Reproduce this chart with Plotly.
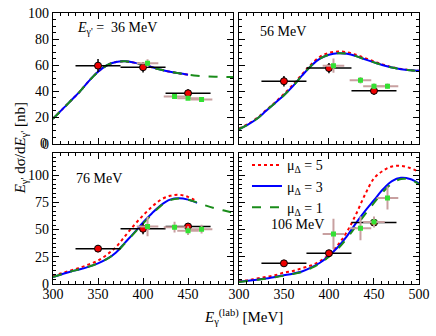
import plotly.graph_objects as go
from plotly.subplots import make_subplots

# photon energy grid for the model curves (MeV)
E_grid = [300, 310, 320, 330, 340, 350, 360, 370, 380, 390, 400,
          410, 420, 430, 440, 450, 460, 470, 480, 490, 500]

# model curves per panel (mu_Delta = 5, 3, 1)
mu5_36 = [19, 26, 33, 40, 48, 55, 60, 62.5, 63, 62, 60.5, 58.5, 56.5, 55, 53.8, 52.8,
          None, None, None, None, None]
mu3_36 = [19, 26, 33, 40, 48, 55, 60, 62.5, 63, 62, 60.5, 58.5, 56.5, 55, 53.8, 52.8,
          None, None, None, None, None]
mu1_36 = [19, 26, 33, 40, 48, 55, 60, 62.5, 63, 62, 60.5, 58.5, 56.5, 55, 53.8, 52.8,
          52, 51.5, 51.2, 51, 51]

mu5_56 = [11.5, 15, 19.5, 25.5, 31.5, 38, 45, 53, 60.5, 66.5, 69.5, 70.5, 70, 68, 65.5,
          63, 60.5, 58.5, 57.2, 56.3, 55.7]
mu3_56 = [11, 14.5, 19, 25, 31, 37, 44, 52, 59.5, 65, 68, 69.2, 68.8, 67, 64.5, 62.2,
          60, 58.2, 57, 56.2, 55.7]
mu1_56 = [11, 14.5, 19, 25, 31, 37, 44, 52, 59.5, 65, 68, 69.2, 68.8, 67, 64.5, 62.2,
          60, 58.2, 57, 56.2, 55.7]

mu5_76 = [7.5, 10, 12.5, 15, 18, 21.5, 27, 34, 44, 54, 63, 71, 77.5, 81, 82, 80, 76,
          None, None, None, None]
mu3_76 = [6.5, 9, 11.5, 13.5, 16, 19, 23, 29, 38, 47, 56.5, 65, 72.5, 77.5, 78.8, 77.5,
          74.5, None, None, None, None]
mu1_76 = [6.5, 9, 11.5, 13.5, 16, 19, 23, 29, 37.5, 46.5, 55.5, 64, 72, 77, 78.5, 77.5,
          75, 72, 69.5, 67.5, 65.5]

mu5_106 = [2.5, 3.5, 5, 6.5, 8, 10.5, 12, 14.5, 17, 21, 27, 36, 48, 64, 82, 97, 104,
           108, 108.5, 106.5, 103]
mu3_106 = [2, 3, 4, 5, 6.5, 8, 9.5, 11.5, 15, 19.5, 26, 34, 44, 56, 67, 77, 87, 94.5,
           97.5, 96.5, 92.5]
mu1_106 = [1.8, 2.8, 3.8, 4.8, 6.2, 7.7, 9.2, 11, 14.5, 19, 25, 32.5, 42, 53, 64, 74.5,
           84.5, 92.5, 96.5, 96, 91.5]

# data set A (red circles)
E_a = [350, 400, 450]
Ea_err = [25, 25, 25]
a_36 = [59.7, 58.5, 38.6]
a_36_err = [5, 4, 3]
a_56 = [47.8, 57.8, 40.4]
a_56_err = [4, 4, 3]
a_76 = [32.5, 50.7, 52.8]
a_76_err = [3, 5, 3]
a_106 = [19, 28.3, 56.4]
a_106_err = [2, 3, 4]

# data set B (green squares)
E_b = [405, 435, 450, 465]
Eb_err = [12, 12, 12, 12]
b_36 = [61.6, 36, 34.8, 33.7]
b_36_err = [3, 1.5, 1.5, 1.5]
b_56 = [59.7, 48.5, 44, 44]
b_56_err = [5.5, 2.5, 2, 2]
b_76 = [52.8, 52.2, 49, 50.4]
b_76_err = [9, 5, 4, 4]
b_106 = [46, 51.3, 57, 79]
b_106_err = [14, 11, 5, 10.5]

panels = [
    (1, 1, mu5_36, mu3_36, mu1_36, a_36, a_36_err, b_36, b_36_err),
    (1, 2, mu5_56, mu3_56, mu1_56, a_56, a_56_err, b_56, b_56_err),
    (2, 1, mu5_76, mu3_76, mu1_76, a_76, a_76_err, b_76, b_76_err),
    (2, 2, mu5_106, mu3_106, mu1_106, a_106, a_106_err, b_106, b_106_err),
]

FONT = "Liberation Serif"

fig = make_subplots(rows=2, cols=2, horizontal_spacing=0.016, vertical_spacing=0.036)

for r, c, m5, m3, m1, a, aerr, b, berr in panels:
    show = (r == 2 and c == 2)
    fig.add_trace(go.Scatter(x=E_grid, y=m5, mode="lines", line_shape="spline",
                             line=dict(color="#ff0000", width=2, dash="dot"),
                             name="μ<sub>Δ</sub> = 5", showlegend=show), row=r, col=c)
    fig.add_trace(go.Scatter(x=E_grid, y=m3, mode="lines", line_shape="spline",
                             line=dict(color="#0000ff", width=2),
                             name="μ<sub>Δ</sub> = 3", showlegend=show), row=r, col=c)
    fig.add_trace(go.Scatter(x=E_grid, y=m1, mode="lines", line_shape="spline",
                             line=dict(color="#1a8c1a", width=2, dash="dash"),
                             name="μ<sub>Δ</sub> = 1", showlegend=show), row=r, col=c)
    fig.add_trace(go.Scatter(x=E_a, y=a, mode="markers",
                             marker=dict(color="#ee0000", size=7, symbol="circle",
                                         line=dict(color="black", width=1)),
                             error_x=dict(type="data", array=Ea_err, color="black",
                                          thickness=1.5, width=0),
                             error_y=dict(type="data", array=aerr, color="black",
                                          thickness=1.5, width=0),
                             showlegend=False), row=r, col=c)
    fig.add_trace(go.Scatter(x=E_b, y=b, mode="markers",
                             marker=dict(color="#33e033", size=5, symbol="square"),
                             error_x=dict(type="data", array=Eb_err, color="#c8a0a0",
                                          thickness=2, width=0),
                             error_y=dict(type="data", array=berr, color="#c8a0a0",
                                          thickness=2, width=0),
                             showlegend=False), row=r, col=c)

axis_style = dict(showline=True, linecolor="black", linewidth=1.2, mirror="allticks",
                  ticks="inside", ticklen=6, tickwidth=1, tickcolor="black",
                  showgrid=False, zeroline=False, ticklabeloverflow="allow",
                  tickfont=dict(family=FONT, size=14, color="black"))

for r in (1, 2):
    for c in (1, 2):
        xt = ["300", "350", "400", "450", "500" if c == 2 else ""] if r == 2 else [""] * 5
        fig.update_xaxes(range=[300, 500], tickvals=[300, 350, 400, 450, 500], ticktext=xt,
                         ticklabelstandoff=-3,
                         minor=dict(ticks="inside", ticklen=3, dtick=50 / 6, tick0=300,
                                    tickcolor="black"),
                         row=r, col=c, **axis_style)
        if r == 1:
            fig.update_yaxes(range=[0, 100], tickmode="linear", tick0=0, dtick=20,
                             showticklabels=(c == 1),
                             minor=dict(ticks="inside", ticklen=3, dtick=5, tick0=0,
                                        tickcolor="black"),
                             row=r, col=c, **axis_style)
        else:
            fig.update_yaxes(range=[0, 120], tickmode="linear", tick0=0, dtick=25,
                             showticklabels=(c == 1),
                             minor=dict(ticks="inside", ticklen=3, dtick=25 / 6, tick0=0,
                                        tickcolor="black"),
                             row=r, col=c, **axis_style)

labels = [
    ("<i>E</i><sub>γ'</sub> =  36 MeV", 0.06, 0.942),
    ("56 MeV", 0.559, 0.932),
    ("76 MeV", 0.058, 0.39),
    ("106 MeV", 0.591, 0.219),
]
annotations = [dict(text=t, x=x, y=y, xref="paper", yref="paper", xanchor="left",
                    yanchor="middle", showarrow=False,
                    font=dict(family=FONT, size=14, color="black"))
               for t, x, y in labels]
# "0" label at the foot of the upper-left y axis (plotly drops it there)
annotations.append(dict(text="0", x=-0.011, y=0.518, xref="paper", yref="paper",
                        xanchor="right", yanchor="middle", showarrow=False,
                        font=dict(family=FONT, size=14, color="black")))
annotations.append(dict(text="<i>E</i><sub>γ'</sub> dσ/d<i>E</i><sub>γ'</sub> [nb]",
                        x=-0.118, y=0.5, xref="paper", yref="paper", textangle=-90,
                        showarrow=False, font=dict(family=FONT, size=15, color="black")))
annotations.append(dict(text="<i>E</i><sub>γ</sub><sup>(lab)</sup> [MeV]",
                        x=0.52, y=-0.165, xref="paper", yref="paper",
                        showarrow=False, font=dict(family=FONT, size=15, color="black")))

fig.update_layout(
    width=436, height=336,
    margin=dict(l=53, r=13, t=6, b=52),
    paper_bgcolor="white", plot_bgcolor="white",
    font=dict(family=FONT, size=14, color="black"),
    annotations=annotations,
    legend=dict(x=0.53, y=0.497, xanchor="left", yanchor="top",
                bgcolor="rgba(0,0,0,0)", font=dict(family=FONT, size=14),
                tracegroupgap=0, itemwidth=30),
)

fig.write_html("out.html", config={"displayModeBar": False},
               post_script="document.body.style.margin='0';")
